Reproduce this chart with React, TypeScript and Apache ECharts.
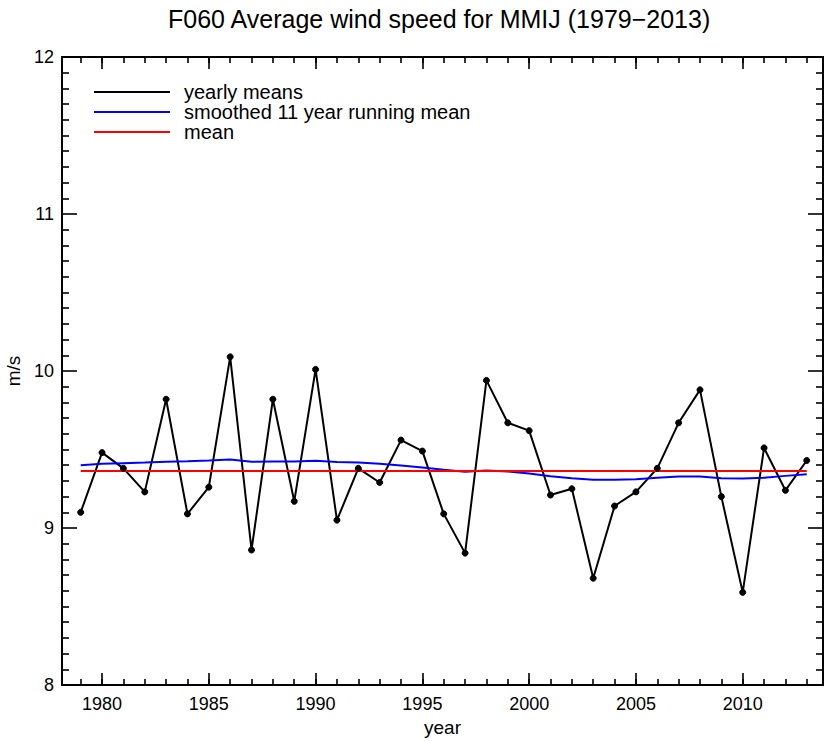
import React, { useEffect, useRef } from "react";
import * as echarts from "echarts";

const years: number[] = [
  1979, 1980, 1981, 1982, 1983, 1984, 1985, 1986, 1987, 1988, 1989, 1990,
  1991, 1992, 1993, 1994, 1995, 1996, 1997, 1998, 1999, 2000, 2001, 2002,
  2003, 2004, 2005, 2006, 2007, 2008, 2009, 2010, 2011, 2012, 2013,
];

const yearlyMeans: number[] = [
  9.10, 9.48, 9.38, 9.23, 9.82, 9.09, 9.26, 10.09, 8.86, 9.82, 9.17, 10.01,
  9.05, 9.38, 9.29, 9.56, 9.49, 9.09, 8.84, 9.94, 9.67, 9.62, 9.21, 9.25,
  8.68, 9.14, 9.23, 9.38, 9.67, 9.88, 9.20, 8.59, 9.51, 9.24, 9.43,
];

const smoothed: number[] = [
  9.400, 9.409, 9.413, 9.417, 9.422, 9.425, 9.430, 9.436, 9.422, 9.424, 9.424, 9.428,
  9.420, 9.417, 9.409, 9.398, 9.385, 9.371, 9.358, 9.366, 9.360, 9.347, 9.330, 9.317,
  9.307, 9.307, 9.311, 9.320, 9.328, 9.328, 9.317, 9.315, 9.320, 9.332, 9.343,
];

const meanValue = 9.363;

const majorYearTicks: number[] = [1980, 1985, 1990, 1995, 2000, 2005, 2010];
const minorYearTicks: number[] = years;

const X_MIN = 1978.125;
const X_MAX = 2013.76;

const FONT = "Liberation Sans";

export default function App() {
  const ref = useRef<HTMLDivElement>(null);

  useEffect(() => {
    if (!ref.current) return;
    const chart = echarts.init(ref.current, undefined, { renderer: "svg" });

    const axisLineStyle = { color: "#000", width: 2 };
    const tickStyle = { color: "#000", width: 1.6 };

    const xBase = (position: string, ticks: number[], len: number, showLine: boolean, showLabel: boolean) => ({
      type: "value",
      gridIndex: 0,
      position,
      min: X_MIN,
      max: X_MAX,
      axisLine: { show: showLine, onZero: false, lineStyle: axisLineStyle },
      axisTick: { show: true, inside: true, length: len, customValues: ticks, lineStyle: tickStyle },
      axisLabel: {
        show: showLabel,
        customValues: majorYearTicks,
        color: "#000",
        fontSize: 18,
        fontFamily: FONT,
        margin: 10,
        formatter: (v: number) => String(Math.round(v)),
      },
      splitLine: { show: false },
    });

    const yBase = (position: string, showLabel: boolean) => ({
      type: "value",
      position,
      min: 8,
      max: 12,
      interval: 1,
      axisLine: { show: true, onZero: false, lineStyle: axisLineStyle },
      axisTick: { show: true, inside: true, length: 15, lineStyle: tickStyle },
      minorTick: { show: true, splitNumber: 10, length: 7, lineStyle: tickStyle },
      axisLabel: { show: showLabel, color: "#000", fontSize: 18, fontFamily: FONT, margin: 8 },
      splitLine: { show: false },
      minorSplitLine: { show: false },
    });

    const xMain: any = xBase("bottom", majorYearTicks, 12, true, true);
    xMain.name = "year";
    xMain.nameLocation = "middle";
    xMain.nameGap = 32;
    xMain.nameTextStyle = { color: "#000", fontSize: 19, fontFamily: FONT };

    const yMain: any = yBase("left", true);
    yMain.name = "m/s";
    yMain.nameLocation = "middle";
    yMain.nameRotate = 90;
    yMain.nameGap = 34;
    yMain.nameTextStyle = { color: "#000", fontSize: 19, fontFamily: FONT };

    const option: any = {
      animation: false,
      backgroundColor: "#fff",
      title: {
        text: "F060 Average wind speed for MMIJ (1979\u22122013)",
        left: 168,
        top: 6,
        padding: 0,
        textStyle: { color: "#000", fontSize: 25, fontWeight: "normal", fontFamily: FONT },
      },
      legend: {
        orient: "vertical",
        left: 94,
        top: 82,
        padding: 0,
        itemGap: 0,
        itemWidth: 76,
        itemHeight: 2,
        icon: "rect",
        textStyle: { color: "#000", fontSize: 20, fontFamily: FONT, padding: [0, 0, 0, 9] },
        data: ["yearly means", "smoothed 11 year running mean", "mean"],
      },
      grid: { left: 62, top: 57, right: 7, bottom: 56, containLabel: false, outerBoundsMode: "none" },
      xAxis: [
        xMain,
        xBase("bottom", minorYearTicks, 6, false, false),
        xBase("top", majorYearTicks, 12, true, false),
        xBase("top", minorYearTicks, 6, false, false),
      ],
      yAxis: [yMain, yBase("right", false)],
      series: [
        {
          name: "yearly means",
          type: "line",
          xAxisIndex: 0,
          yAxisIndex: 0,
          data: years.map((y, i) => [y, yearlyMeans[i]]),
          color: "#000",
          lineStyle: { color: "#000", width: 2 },
          itemStyle: { color: "#000", borderColor: "#000" },
          symbol: "circle",
          symbolSize: 6,
        },
        {
          name: "smoothed 11 year running mean",
          type: "line",
          xAxisIndex: 0,
          yAxisIndex: 0,
          data: years.map((y, i) => [y, smoothed[i]]),
          color: "#0000ff",
          lineStyle: { color: "#0000ff", width: 2 },
          symbol: "none",
        },
        {
          name: "mean",
          type: "line",
          xAxisIndex: 0,
          yAxisIndex: 0,
          data: [
            [years[0], meanValue],
            [years[years.length - 1], meanValue],
          ],
          color: "#ff0000",
          lineStyle: { color: "#ff0000", width: 2 },
          symbol: "none",
        },
      ],
    };

    chart.setOption(option);
    return () => chart.dispose();
  }, []);

  return <div ref={ref} style={{ width: 830, height: 741, position: "absolute", left: 0, top: 0 }} />;
}
